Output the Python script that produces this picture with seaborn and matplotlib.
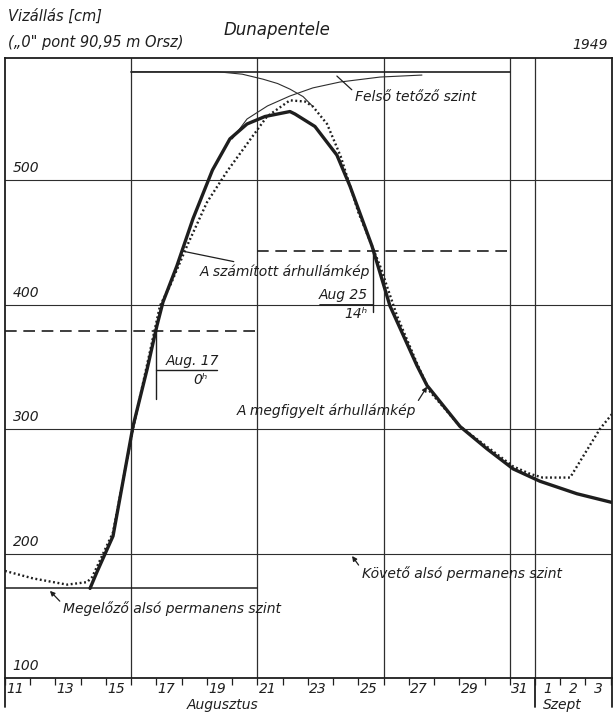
import matplotlib
matplotlib.use("Agg")
import matplotlib.pyplot as plt
import matplotlib.transforms as mtransforms
import pandas as pd
import seaborn as sns

# ---- data (x = days counted from 1949 Aug 11, 0h; y = water level in cm) ----
calc_day = [3.37, 3.64, 4.28, 5.07, 5.63, 6.02, 6.26, 6.81, 7.45, 8.22, 8.91, 9.59,
            10.30, 11.29, 11.49, 12.28, 13.15, 13.67, 14.54, 15.25, 16.32, 16.72,
            18.03, 19.10, 20.13, 21.2, 22.66, 24.05]
calc_cm = [172, 185, 214, 302, 348, 383, 402, 431, 469, 508, 533, 545,
           551, 555, 553, 543, 520, 495, 447, 399, 351, 335,
           302, 284, 268, 258, 248, 241]

obs_day = [0, 1.11, 2.46, 3.25, 3.45, 4.28, 5.07, 6.14, 6.54, 7.21, 8.0, 8.8, 9.59,
           10.38, 11.29, 11.89, 12.2, 12.76, 13.3, 14.0, 14.86, 15.53, 16.36, 16.84,
           18.03, 19.61, 20.13, 20.8, 21.3, 22.39, 23.57, 24.05]
obs_cm = [186, 180, 175, 177, 181, 217, 300, 399, 415, 447, 482, 507, 529,
          551, 564, 563, 559, 545, 519, 474, 431, 391, 351, 330,
          302, 278, 270, 264, 261, 261, 300, 312]

env_a_day = [5.0, 8.4, 9.4, 10.22, 10.8, 11.29, 11.81, 12.2]
env_a_cm = [587, 587, 585, 581, 577.5, 573, 567, 559]
env_b_day = [9.0, 9.59, 10.4, 11.29, 12.2, 13.27, 14.86, 16.52]
env_b_cm = [533, 549, 559.5, 567.5, 574, 578.7, 582.7, 584.3]

upper_level_day = [5, 20]
upper_level_cm = 587
prev_low_day = [0, 10]
prev_low_cm = 172
mean1_day = [0, 10]
mean1_cm = 379
mean2_day = [10, 20]
mean2_cm = 443

grid_cm = [200, 300, 400, 500]
ylabel_cm = [100, 200, 300, 400, 500]
vgrid_day = [5, 10, 15, 20, 21]
aug_tick_day = [0, 2, 4, 6, 8, 10, 12, 14, 16, 18, 20]
aug_tick_lab = ["11", "13", "15", "17", "19", "21", "23", "25", "27", "29", "31"]
sep_tick_day = [21, 22, 23]
sep_tick_lab = ["1", "2", "3"]

# ---- style ----
sns.set_theme(style="white")
plt.rcParams["font.family"] = ["DejaVu Sans"]
plt.rcParams["font.style"] = "italic"
ink = "#1e1e1e"
thin = "#2e2e2e"

fig = plt.figure(figsize=(6.14, 7.15), dpi=100)
fig.patch.set_facecolor("white")
ax = fig.add_axes([5 / 614, 37 / 715, 607 / 614, 620 / 715])
ax.set_facecolor("white")
ax.set_xlim(0, 24.05)
ax.set_ylim(100, 598)

for s in ax.spines.values():
    s.set_color(ink)
    s.set_linewidth(1.3)

# grid
for c in grid_cm:
    ax.axhline(c, color=thin, lw=0.8, zorder=1)
for d in vgrid_day:
    ax.axvline(d, color=thin, lw=0.9, zorder=1)

# level lines
ax.plot(upper_level_day, [upper_level_cm] * 2, color=ink, lw=1.2)
ax.plot(prev_low_day, [prev_low_cm] * 2, color=ink, lw=1.1)
ax.plot(mean1_day, [mean1_cm] * 2, color=ink, lw=1.2, dashes=(7, 4))
ax.plot(mean2_day, [mean2_cm] * 2, color=ink, lw=1.2, dashes=(7, 4))

# envelope curves
ax.plot(env_a_day, env_a_cm, color=thin, lw=0.8)
ax.plot(env_b_day, env_b_cm, color=thin, lw=0.8)

# hydrographs
calc = pd.DataFrame({"day": calc_day, "cm": calc_cm})
obs = pd.DataFrame({"day": obs_day, "cm": obs_cm})
sns.lineplot(data=calc, x="day", y="cm", ax=ax, sort=False, estimator=None,
             color=ink, lw=2.4, zorder=4)
sns.lineplot(data=obs, x="day", y="cm", ax=ax, sort=False, estimator=None,
             color=ink, lw=1.7, linestyle=(0, (0.8, 1.1)), zorder=5)
ax.set_xlabel("")
ax.set_ylabel("")

# ticks
ax.set_xticks([d + 0.4 for d in aug_tick_day] + [d + 0.5 for d in sep_tick_day])
ax.set_xticklabels(aug_tick_lab + sep_tick_lab, fontsize=10, style="italic", color=ink)
ax.set_xticks(list(range(0, 25)), minor=True)
ax.tick_params(axis="x", which="major", length=0, pad=3)
ax.tick_params(axis="x", which="minor", length=5, width=0.9, color=ink, direction="out",
               bottom=True)
ax.set_yticks([])

for c in ylabel_cm:
    ax.text(0.3, c + 4, str(c), fontsize=10, style="italic", color=ink,
            ha="left", va="bottom")

# month separators extending below axis
for d in [0, 21, 24.05]:
    ax.axvline(d, ymin=-0.047, ymax=0, color=ink, lw=1.3, clip_on=False)

bt = mtransforms.blended_transform_factory(ax.transData, fig.transFigure)
ax.text(8.64, 1 - 705 / 715, "Augusztus", transform=bt, fontsize=10, style="italic",
        ha="center", va="center", color=ink)
ax.text(22.1, 1 - 705 / 715, "Szept", transform=bt, fontsize=10, style="italic",
        ha="center", va="center", color=ink)

# headings
fig.text(8 / 614, 1 - 16 / 715, "Vizállás [cm]", fontsize=10.5, style="italic",
         ha="left", va="center", color=ink)
fig.text(8 / 614, 1 - 43 / 715, "(„0\" pont 90,95 m Orsz)", fontsize=10.5, style="italic",
         ha="left", va="center", color=ink)
fig.text(277 / 614, 1 - 30 / 715, "Dunapentele", fontsize=12, style="italic",
         ha="center", va="center", color=ink)
fig.text(608 / 614, 1 - 45 / 715, "1949", fontsize=10, style="italic",
         ha="right", va="center", color=ink)

# time marks
ax.plot([6, 6], [mean1_cm, 324], color=ink, lw=1.0)
ax.plot([6, 8.4], [347, 347], color=ink, lw=1.0)
ax.text(6.35, 349, "Aug. 17", fontsize=10, style="italic", ha="left", va="bottom", color=ink)
ax.text(7.45, 345, "0ʰ", fontsize=10, style="italic", ha="left", va="top", color=ink)

ax.plot([14.583, 14.583], [mean2_cm, 394], color=ink, lw=1.0)
ax.plot([12.48, 14.583], [400, 400], color=ink, lw=1.3)
ax.text(14.38, 402, "Aug 25", fontsize=10, style="italic", ha="right", va="bottom", color=ink)
ax.text(14.38, 398, "14ʰ", fontsize=10, style="italic", ha="right", va="top", color=ink)

# labels with leaders
lab_kw = dict(fontsize=10, style="italic", color=ink, va="center", ha="left")
ax.annotate("A számított árhullámkép", xy=(7.01, 443), xytext=(7.72, 426),
            arrowprops=dict(arrowstyle="-", color=ink, lw=0.9, shrinkA=0, shrinkB=0),
            **lab_kw)
ax.annotate("A megfigyelt árhullámkép", xy=(16.72, 334), xytext=(9.19, 314.5),
            arrowprops=dict(arrowstyle="-|>", color=ink, lw=0.9, shrinkA=0, shrinkB=0,
                            mutation_scale=7, relpos=(1, 1)),
            **lab_kw)
ax.annotate("Felső tetőző szint", xy=(13.15, 583.5), xytext=(13.87, 566.7),
            arrowprops=dict(arrowstyle="-", color=ink, lw=0.9, shrinkA=0, shrinkB=0,
                            relpos=(0, 0.8)),
            **lab_kw)
ax.annotate("Megelőző alsó permanens szint", xy=(1.78, 170), xytext=(2.3, 155.4),
            arrowprops=dict(arrowstyle="-|>", color=ink, lw=0.9, shrinkA=0, shrinkB=0,
                            mutation_scale=7, relpos=(0, 0.8)),
            **lab_kw)
ax.annotate("Követő alsó permanens szint", xy=(13.75, 198), xytext=(14.14, 183.5),
            arrowprops=dict(arrowstyle="-|>", color=ink, lw=0.9, shrinkA=0, shrinkB=0,
                            mutation_scale=7, relpos=(0, 0.8)),
            **lab_kw)

fig.savefig("out.png", dpi=100, facecolor="white")
